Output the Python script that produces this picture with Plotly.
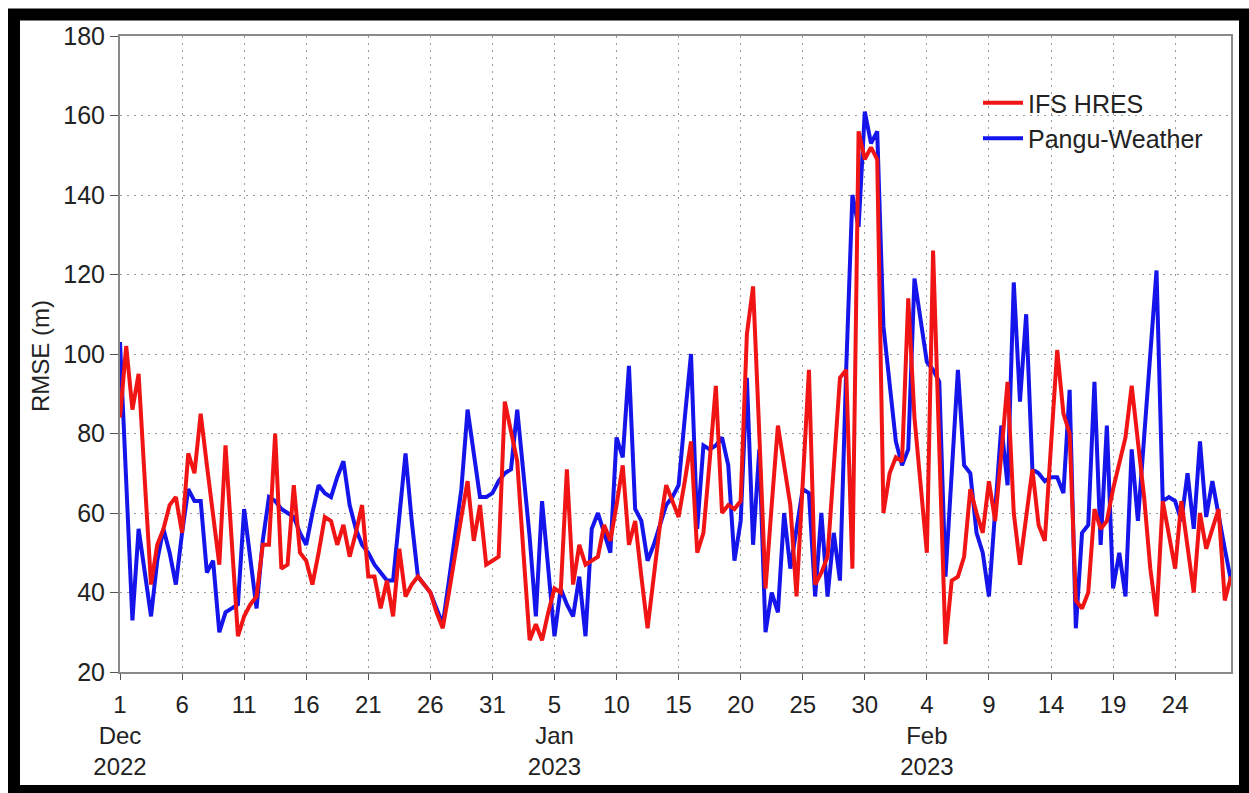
import pandas as pd
import plotly.graph_objects as go

# 12-hourly forecasts, 1 Dec 2022 00 UTC -> 28 Feb 2023 12 UTC
start_time = "2022-12-01 00:00"
step = "12h"

ifs_hres = [
    84, 102, 86, 95, 68, 42, 52, 56, 62, 64,
    55, 75, 70, 85, 72, 60, 47, 77, 52, 29,
    34, 37, 39, 52, 52, 80, 46, 47, 67, 50,
    48, 42, 50, 59, 58, 52, 57, 49, 55, 62,
    44, 44, 36, 43, 34, 51, 39, 42, 44, 42,
    40, 35, 31, 40, 50, 59, 68, 53, 62, 47,
    48, 49, 88, 81, 73, 50, 28, 32, 28, 35,
    41, 40, 71, 42, 52, 47, 48, 49, 57, 53,
    62, 72, 52, 58, 44, 31, 44, 57, 67, 63,
    59, 68, 78, 50, 55, 73, 92, 60, 62, 61,
    63, 105, 117, 80, 41, 62, 82, 72, 62, 39,
    68, 96, 42, 45, 49, 72, 94, 96, 46, 156,
    149, 152, 149, 60, 70, 74, 73, 114, 84, 67,
    50, 126, 77, 27, 43, 44, 49, 66, 60, 55,
    68, 58, 75, 93, 60, 47, 59, 71, 57, 53,
    77, 101, 85, 80, 38, 36, 40, 61, 56, 58,
    66, 73, 79, 92, 78, 64, 46, 34, 63, 55,
    46, 63, 52, 40, 60, 51, 56, 61, 38, 44,
]

pangu_weather = [
    103, 68, 33, 56, 45, 34, 48, 56, 50, 42,
    55, 66, 63, 63, 45, 48, 30, 35, 36, 37,
    61, 48, 36, 53, 64, 63, 61, 60, 59, 55,
    52, 60, 67, 65, 64, 69, 73, 62, 56, 52,
    50, 47, 45, 43, 43, 60, 75, 58, 44, 42,
    40, 36, 32, 43, 54, 66, 86, 75, 64, 64,
    65, 68, 70, 71, 86, 70, 54, 34, 63, 46,
    29, 41, 37, 34, 44, 29, 56, 60, 55, 50,
    79, 74, 97, 61, 58, 48, 52, 57, 62, 64,
    67, 84, 100, 56, 77, 76, 77, 79, 72, 48,
    58, 94, 52, 76, 30, 40, 35, 60, 46, 56,
    66, 65, 39, 60, 39, 55, 43, 96, 140, 132,
    161, 153, 156, 107, 92, 78, 72, 76, 119, 108,
    98, 96, 93, 44, 70, 96, 72, 70, 55, 50,
    39, 62, 82, 67, 118, 88, 110, 71, 70, 68,
    69, 69, 65, 91, 31, 55, 57, 93, 52, 82,
    41, 50, 39, 76, 58, 79, 100, 121, 63, 64,
    63, 58, 70, 56, 78, 59, 68, 59, 51, 43,
]

tick_dates = [
    "2022-12-01", "2022-12-06", "2022-12-11", "2022-12-16", "2022-12-21",
    "2022-12-26", "2022-12-31", "2023-01-05", "2023-01-10", "2023-01-15",
    "2023-01-20", "2023-01-25", "2023-01-30", "2023-02-04", "2023-02-09",
    "2023-02-14", "2023-02-19", "2023-02-24",
]
tick_labels = [
    "1<br>Dec<br>2022", "6", "11", "16", "21", "26", "31",
    "5<br>Jan<br>2023", "10", "15", "20", "25", "30",
    "4<br>Feb<br>2023", "9", "14", "19", "24",
]
y_ticks = [20, 40, 60, 80, 100, 120, 140, 160, 180]

times = pd.date_range(start_time, periods=len(ifs_hres), freq=step)

FONT = "Liberation Sans, Arial, sans-serif"
RED = "rgb(240,20,20)"
BLUE = "rgb(20,20,235)"

fig = go.Figure()
fig.add_trace(go.Scatter(x=times, y=pangu_weather, mode="lines", name="Pangu-Weather",
                         legendgroup="pangu",
                         line=dict(color=BLUE, width=4)))
fig.add_trace(go.Scatter(x=times, y=ifs_hres, mode="lines", name="IFS HRES",
                         legendgroup="ifs",
                         line=dict(color=RED, width=4)))

L, R, T, B = 120, 1231, 36, 672
W, H = 1249, 793
pw, ph = R - L, B - T

def px(xp):
    return (xp - L) / pw

def py(yp):
    return (B - yp) / ph

fig.update_layout(
    width=W, height=H,
    margin=dict(l=L, r=W - R, t=T, b=H - B, pad=0),
    paper_bgcolor="white", plot_bgcolor="white",
    font=dict(family=FONT, size=25, color="#222"),
    showlegend=True,
    legend=dict(x=px(978), y=py(80), xanchor="left", yanchor="top",
                bgcolor="rgba(0,0,0,0)", traceorder="reversed",
                font=dict(size=25, color="#222"), itemwidth=40,
                tracegroupgap=9),
    xaxis=dict(
        type="date",
        range=[times[0], times[-1]],
        tickvals=tick_dates, ticktext=tick_labels,
        tickangle=0,
        showgrid=True, gridcolor="#9a9a9a", gridwidth=1.2, griddash="2px,5px",
        showline=True, mirror=True, linecolor="#8a8a8a", linewidth=2,
        ticks="outside", ticklen=6, tickcolor="#555", tickwidth=1,
        ticklabelstandoff=4,
        tickfont=dict(size=24, color="#222"),
        zeroline=False,
    ),
    yaxis=dict(
        range=[20, 180], tickvals=y_ticks,
        showgrid=True, gridcolor="#9a9a9a", gridwidth=1.2, griddash="2px,5px",
        showline=True, mirror=True, linecolor="#8a8a8a", linewidth=2,
        ticks="outside", ticklen=8, tickcolor="#555", tickwidth=1,
        tickfont=dict(size=25, color="#222"),
        zeroline=False,
    ),
    annotations=[
        dict(text="RMSE (m)", x=px(40), y=py(356), xref="paper", yref="paper",
             xanchor="center", yanchor="middle",
             showarrow=False, textangle=-90, font=dict(size=24, color="#222")),
    ],
    shapes=[
        dict(type="rect", xref="paper", yref="paper",
             x0=px(14), x1=px(1245), y0=py(791), y1=py(14.5),
             line=dict(color="black", width=12), fillcolor="rgba(0,0,0,0)",
             layer="below"),
    ],
)

fig.write_html("out.html",
               config={"displayModeBar": False},
               post_script="document.body.style.margin='0px';document.body.style.overflow='hidden';")
